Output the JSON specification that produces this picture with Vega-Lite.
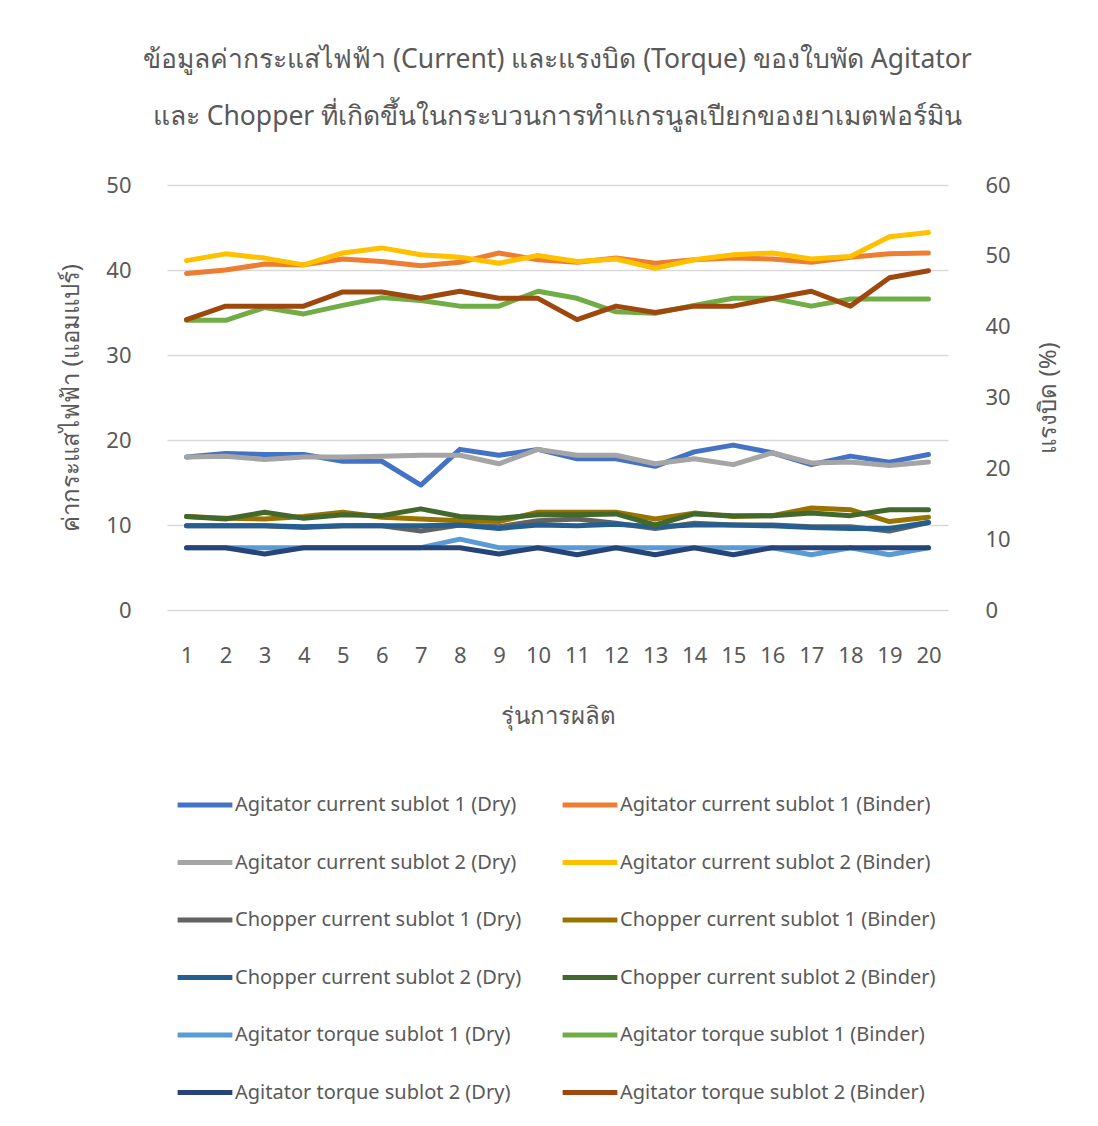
{
  "$schema": "https://vega.github.io/schema/vega-lite/v6.json",
  "width": 781,
  "height": 425,
  "autosize": {"type": "none"},
  "padding": {"left": 167, "top": 185, "right": 150, "bottom": 516},
  "background": "white",
  "config": {
    "view": {"stroke": null},
    "font": "Noto Sans",
    "axis": {"labelColor": "#595959", "titleColor": "#595959", "labelFont": "Noto Sans", "titleFont": "Noto Sans", "titleFontWeight": "normal"},
    "legend": {"labelFont": "Noto Sans"}
  },
  "title": {
    "text": ["ข้อมูลค่ากระแสไฟฟ้า (Current) และแรงบิด (Torque) ของใบพัด Agitator", "และ Chopper ที่เกิดขึ้นในกระบวนการทำแกรนูลเปียกของยาเมตฟอร์มิน"],
    "anchor": "middle",
    "frame": "group",
    "fontSize": 26.5,
    "lineHeight": 57,
    "fontWeight": "normal",
    "color": "#595959",
    "offset": 44
  },
  "datasets": {
    "current": [
      {"batch":1,"series":"Agitator current sublot 1 (Dry)","value":18.0},{"batch":2,"series":"Agitator current sublot 1 (Dry)","value":18.4},{"batch":3,"series":"Agitator current sublot 1 (Dry)","value":18.3},{"batch":4,"series":"Agitator current sublot 1 (Dry)","value":18.3},{"batch":5,"series":"Agitator current sublot 1 (Dry)","value":17.5},{"batch":6,"series":"Agitator current sublot 1 (Dry)","value":17.5},{"batch":7,"series":"Agitator current sublot 1 (Dry)","value":14.7},{"batch":8,"series":"Agitator current sublot 1 (Dry)","value":18.9},{"batch":9,"series":"Agitator current sublot 1 (Dry)","value":18.2},{"batch":10,"series":"Agitator current sublot 1 (Dry)","value":18.9},{"batch":11,"series":"Agitator current sublot 1 (Dry)","value":17.8},{"batch":12,"series":"Agitator current sublot 1 (Dry)","value":17.8},{"batch":13,"series":"Agitator current sublot 1 (Dry)","value":16.9},{"batch":14,"series":"Agitator current sublot 1 (Dry)","value":18.6},{"batch":15,"series":"Agitator current sublot 1 (Dry)","value":19.4},{"batch":16,"series":"Agitator current sublot 1 (Dry)","value":18.5},{"batch":17,"series":"Agitator current sublot 1 (Dry)","value":17.1},{"batch":18,"series":"Agitator current sublot 1 (Dry)","value":18.1},{"batch":19,"series":"Agitator current sublot 1 (Dry)","value":17.4},{"batch":20,"series":"Agitator current sublot 1 (Dry)","value":18.3},
      {"batch":1,"series":"Agitator current sublot 1 (Binder)","value":39.6},{"batch":2,"series":"Agitator current sublot 1 (Binder)","value":40.0},{"batch":3,"series":"Agitator current sublot 1 (Binder)","value":40.7},{"batch":4,"series":"Agitator current sublot 1 (Binder)","value":40.6},{"batch":5,"series":"Agitator current sublot 1 (Binder)","value":41.3},{"batch":6,"series":"Agitator current sublot 1 (Binder)","value":41.0},{"batch":7,"series":"Agitator current sublot 1 (Binder)","value":40.5},{"batch":8,"series":"Agitator current sublot 1 (Binder)","value":40.9},{"batch":9,"series":"Agitator current sublot 1 (Binder)","value":42.0},{"batch":10,"series":"Agitator current sublot 1 (Binder)","value":41.2},{"batch":11,"series":"Agitator current sublot 1 (Binder)","value":40.9},{"batch":12,"series":"Agitator current sublot 1 (Binder)","value":41.4},{"batch":13,"series":"Agitator current sublot 1 (Binder)","value":40.8},{"batch":14,"series":"Agitator current sublot 1 (Binder)","value":41.2},{"batch":15,"series":"Agitator current sublot 1 (Binder)","value":41.4},{"batch":16,"series":"Agitator current sublot 1 (Binder)","value":41.3},{"batch":17,"series":"Agitator current sublot 1 (Binder)","value":40.9},{"batch":18,"series":"Agitator current sublot 1 (Binder)","value":41.5},{"batch":19,"series":"Agitator current sublot 1 (Binder)","value":41.9},{"batch":20,"series":"Agitator current sublot 1 (Binder)","value":42.0},
      {"batch":1,"series":"Agitator current sublot 2 (Dry)","value":18.0},{"batch":2,"series":"Agitator current sublot 2 (Dry)","value":18.1},{"batch":3,"series":"Agitator current sublot 2 (Dry)","value":17.7},{"batch":4,"series":"Agitator current sublot 2 (Dry)","value":18.0},{"batch":5,"series":"Agitator current sublot 2 (Dry)","value":18.0},{"batch":6,"series":"Agitator current sublot 2 (Dry)","value":18.1},{"batch":7,"series":"Agitator current sublot 2 (Dry)","value":18.2},{"batch":8,"series":"Agitator current sublot 2 (Dry)","value":18.2},{"batch":9,"series":"Agitator current sublot 2 (Dry)","value":17.2},{"batch":10,"series":"Agitator current sublot 2 (Dry)","value":18.9},{"batch":11,"series":"Agitator current sublot 2 (Dry)","value":18.2},{"batch":12,"series":"Agitator current sublot 2 (Dry)","value":18.2},{"batch":13,"series":"Agitator current sublot 2 (Dry)","value":17.2},{"batch":14,"series":"Agitator current sublot 2 (Dry)","value":17.8},{"batch":15,"series":"Agitator current sublot 2 (Dry)","value":17.1},{"batch":16,"series":"Agitator current sublot 2 (Dry)","value":18.5},{"batch":17,"series":"Agitator current sublot 2 (Dry)","value":17.3},{"batch":18,"series":"Agitator current sublot 2 (Dry)","value":17.4},{"batch":19,"series":"Agitator current sublot 2 (Dry)","value":17.0},{"batch":20,"series":"Agitator current sublot 2 (Dry)","value":17.4},
      {"batch":1,"series":"Agitator current sublot 2 (Binder)","value":41.1},{"batch":2,"series":"Agitator current sublot 2 (Binder)","value":41.9},{"batch":3,"series":"Agitator current sublot 2 (Binder)","value":41.4},{"batch":4,"series":"Agitator current sublot 2 (Binder)","value":40.6},{"batch":5,"series":"Agitator current sublot 2 (Binder)","value":42.0},{"batch":6,"series":"Agitator current sublot 2 (Binder)","value":42.6},{"batch":7,"series":"Agitator current sublot 2 (Binder)","value":41.8},{"batch":8,"series":"Agitator current sublot 2 (Binder)","value":41.5},{"batch":9,"series":"Agitator current sublot 2 (Binder)","value":40.8},{"batch":10,"series":"Agitator current sublot 2 (Binder)","value":41.7},{"batch":11,"series":"Agitator current sublot 2 (Binder)","value":41.0},{"batch":12,"series":"Agitator current sublot 2 (Binder)","value":41.3},{"batch":13,"series":"Agitator current sublot 2 (Binder)","value":40.2},{"batch":14,"series":"Agitator current sublot 2 (Binder)","value":41.2},{"batch":15,"series":"Agitator current sublot 2 (Binder)","value":41.8},{"batch":16,"series":"Agitator current sublot 2 (Binder)","value":42.0},{"batch":17,"series":"Agitator current sublot 2 (Binder)","value":41.3},{"batch":18,"series":"Agitator current sublot 2 (Binder)","value":41.6},{"batch":19,"series":"Agitator current sublot 2 (Binder)","value":43.9},{"batch":20,"series":"Agitator current sublot 2 (Binder)","value":44.4},
      {"batch":1,"series":"Chopper current sublot 1 (Dry)","value":9.9},{"batch":2,"series":"Chopper current sublot 1 (Dry)","value":9.9},{"batch":3,"series":"Chopper current sublot 1 (Dry)","value":9.9},{"batch":4,"series":"Chopper current sublot 1 (Dry)","value":9.7},{"batch":5,"series":"Chopper current sublot 1 (Dry)","value":9.9},{"batch":6,"series":"Chopper current sublot 1 (Dry)","value":9.9},{"batch":7,"series":"Chopper current sublot 1 (Dry)","value":9.3},{"batch":8,"series":"Chopper current sublot 1 (Dry)","value":10.0},{"batch":9,"series":"Chopper current sublot 1 (Dry)","value":9.8},{"batch":10,"series":"Chopper current sublot 1 (Dry)","value":10.5},{"batch":11,"series":"Chopper current sublot 1 (Dry)","value":10.7},{"batch":12,"series":"Chopper current sublot 1 (Dry)","value":10.2},{"batch":13,"series":"Chopper current sublot 1 (Dry)","value":9.6},{"batch":14,"series":"Chopper current sublot 1 (Dry)","value":10.2},{"batch":15,"series":"Chopper current sublot 1 (Dry)","value":10.0},{"batch":16,"series":"Chopper current sublot 1 (Dry)","value":10.0},{"batch":17,"series":"Chopper current sublot 1 (Dry)","value":9.8},{"batch":18,"series":"Chopper current sublot 1 (Dry)","value":9.8},{"batch":19,"series":"Chopper current sublot 1 (Dry)","value":9.3},{"batch":20,"series":"Chopper current sublot 1 (Dry)","value":10.3},
      {"batch":1,"series":"Chopper current sublot 1 (Binder)","value":11.0},{"batch":2,"series":"Chopper current sublot 1 (Binder)","value":10.8},{"batch":3,"series":"Chopper current sublot 1 (Binder)","value":10.7},{"batch":4,"series":"Chopper current sublot 1 (Binder)","value":11.0},{"batch":5,"series":"Chopper current sublot 1 (Binder)","value":11.5},{"batch":6,"series":"Chopper current sublot 1 (Binder)","value":10.9},{"batch":7,"series":"Chopper current sublot 1 (Binder)","value":10.7},{"batch":8,"series":"Chopper current sublot 1 (Binder)","value":10.5},{"batch":9,"series":"Chopper current sublot 1 (Binder)","value":10.4},{"batch":10,"series":"Chopper current sublot 1 (Binder)","value":11.5},{"batch":11,"series":"Chopper current sublot 1 (Binder)","value":11.5},{"batch":12,"series":"Chopper current sublot 1 (Binder)","value":11.5},{"batch":13,"series":"Chopper current sublot 1 (Binder)","value":10.7},{"batch":14,"series":"Chopper current sublot 1 (Binder)","value":11.4},{"batch":15,"series":"Chopper current sublot 1 (Binder)","value":11.0},{"batch":16,"series":"Chopper current sublot 1 (Binder)","value":11.1},{"batch":17,"series":"Chopper current sublot 1 (Binder)","value":12.0},{"batch":18,"series":"Chopper current sublot 1 (Binder)","value":11.8},{"batch":19,"series":"Chopper current sublot 1 (Binder)","value":10.4},{"batch":20,"series":"Chopper current sublot 1 (Binder)","value":10.9},
      {"batch":1,"series":"Chopper current sublot 2 (Dry)","value":9.9},{"batch":2,"series":"Chopper current sublot 2 (Dry)","value":9.9},{"batch":3,"series":"Chopper current sublot 2 (Dry)","value":9.9},{"batch":4,"series":"Chopper current sublot 2 (Dry)","value":9.8},{"batch":5,"series":"Chopper current sublot 2 (Dry)","value":9.9},{"batch":6,"series":"Chopper current sublot 2 (Dry)","value":9.9},{"batch":7,"series":"Chopper current sublot 2 (Dry)","value":9.9},{"batch":8,"series":"Chopper current sublot 2 (Dry)","value":10.0},{"batch":9,"series":"Chopper current sublot 2 (Dry)","value":9.6},{"batch":10,"series":"Chopper current sublot 2 (Dry)","value":10.0},{"batch":11,"series":"Chopper current sublot 2 (Dry)","value":9.9},{"batch":12,"series":"Chopper current sublot 2 (Dry)","value":10.1},{"batch":13,"series":"Chopper current sublot 2 (Dry)","value":9.8},{"batch":14,"series":"Chopper current sublot 2 (Dry)","value":10.0},{"batch":15,"series":"Chopper current sublot 2 (Dry)","value":10.0},{"batch":16,"series":"Chopper current sublot 2 (Dry)","value":9.9},{"batch":17,"series":"Chopper current sublot 2 (Dry)","value":9.7},{"batch":18,"series":"Chopper current sublot 2 (Dry)","value":9.6},{"batch":19,"series":"Chopper current sublot 2 (Dry)","value":9.6},{"batch":20,"series":"Chopper current sublot 2 (Dry)","value":10.3},
      {"batch":1,"series":"Chopper current sublot 2 (Binder)","value":11.0},{"batch":2,"series":"Chopper current sublot 2 (Binder)","value":10.7},{"batch":3,"series":"Chopper current sublot 2 (Binder)","value":11.5},{"batch":4,"series":"Chopper current sublot 2 (Binder)","value":10.8},{"batch":5,"series":"Chopper current sublot 2 (Binder)","value":11.2},{"batch":6,"series":"Chopper current sublot 2 (Binder)","value":11.1},{"batch":7,"series":"Chopper current sublot 2 (Binder)","value":11.9},{"batch":8,"series":"Chopper current sublot 2 (Binder)","value":11.0},{"batch":9,"series":"Chopper current sublot 2 (Binder)","value":10.8},{"batch":10,"series":"Chopper current sublot 2 (Binder)","value":11.2},{"batch":11,"series":"Chopper current sublot 2 (Binder)","value":11.2},{"batch":12,"series":"Chopper current sublot 2 (Binder)","value":11.3},{"batch":13,"series":"Chopper current sublot 2 (Binder)","value":10.0},{"batch":14,"series":"Chopper current sublot 2 (Binder)","value":11.3},{"batch":15,"series":"Chopper current sublot 2 (Binder)","value":11.1},{"batch":16,"series":"Chopper current sublot 2 (Binder)","value":11.1},{"batch":17,"series":"Chopper current sublot 2 (Binder)","value":11.4},{"batch":18,"series":"Chopper current sublot 2 (Binder)","value":11.1},{"batch":19,"series":"Chopper current sublot 2 (Binder)","value":11.8},{"batch":20,"series":"Chopper current sublot 2 (Binder)","value":11.8}
    ],
    "torque": [
      {"batch":1,"series":"Agitator torque sublot 1 (Dry)","value":8.8},{"batch":2,"series":"Agitator torque sublot 1 (Dry)","value":8.8},{"batch":3,"series":"Agitator torque sublot 1 (Dry)","value":8.8},{"batch":4,"series":"Agitator torque sublot 1 (Dry)","value":8.8},{"batch":5,"series":"Agitator torque sublot 1 (Dry)","value":8.8},{"batch":6,"series":"Agitator torque sublot 1 (Dry)","value":8.8},{"batch":7,"series":"Agitator torque sublot 1 (Dry)","value":8.8},{"batch":8,"series":"Agitator torque sublot 1 (Dry)","value":10.0},{"batch":9,"series":"Agitator torque sublot 1 (Dry)","value":8.8},{"batch":10,"series":"Agitator torque sublot 1 (Dry)","value":8.8},{"batch":11,"series":"Agitator torque sublot 1 (Dry)","value":8.8},{"batch":12,"series":"Agitator torque sublot 1 (Dry)","value":8.8},{"batch":13,"series":"Agitator torque sublot 1 (Dry)","value":8.8},{"batch":14,"series":"Agitator torque sublot 1 (Dry)","value":8.8},{"batch":15,"series":"Agitator torque sublot 1 (Dry)","value":8.8},{"batch":16,"series":"Agitator torque sublot 1 (Dry)","value":8.8},{"batch":17,"series":"Agitator torque sublot 1 (Dry)","value":7.8},{"batch":18,"series":"Agitator torque sublot 1 (Dry)","value":8.8},{"batch":19,"series":"Agitator torque sublot 1 (Dry)","value":7.8},{"batch":20,"series":"Agitator torque sublot 1 (Dry)","value":8.8},
      {"batch":1,"series":"Agitator torque sublot 1 (Binder)","value":40.9},{"batch":2,"series":"Agitator torque sublot 1 (Binder)","value":40.9},{"batch":3,"series":"Agitator torque sublot 1 (Binder)","value":42.7},{"batch":4,"series":"Agitator torque sublot 1 (Binder)","value":41.8},{"batch":5,"series":"Agitator torque sublot 1 (Binder)","value":43.0},{"batch":6,"series":"Agitator torque sublot 1 (Binder)","value":44.1},{"batch":7,"series":"Agitator torque sublot 1 (Binder)","value":43.7},{"batch":8,"series":"Agitator torque sublot 1 (Binder)","value":42.9},{"batch":9,"series":"Agitator torque sublot 1 (Binder)","value":42.9},{"batch":10,"series":"Agitator torque sublot 1 (Binder)","value":45.0},{"batch":11,"series":"Agitator torque sublot 1 (Binder)","value":44.0},{"batch":12,"series":"Agitator torque sublot 1 (Binder)","value":42.1},{"batch":13,"series":"Agitator torque sublot 1 (Binder)","value":41.9},{"batch":14,"series":"Agitator torque sublot 1 (Binder)","value":43.0},{"batch":15,"series":"Agitator torque sublot 1 (Binder)","value":44.0},{"batch":16,"series":"Agitator torque sublot 1 (Binder)","value":44.0},{"batch":17,"series":"Agitator torque sublot 1 (Binder)","value":42.9},{"batch":18,"series":"Agitator torque sublot 1 (Binder)","value":43.9},{"batch":19,"series":"Agitator torque sublot 1 (Binder)","value":43.9},{"batch":20,"series":"Agitator torque sublot 1 (Binder)","value":43.9},
      {"batch":1,"series":"Agitator torque sublot 2 (Dry)","value":8.8},{"batch":2,"series":"Agitator torque sublot 2 (Dry)","value":8.8},{"batch":3,"series":"Agitator torque sublot 2 (Dry)","value":7.9},{"batch":4,"series":"Agitator torque sublot 2 (Dry)","value":8.8},{"batch":5,"series":"Agitator torque sublot 2 (Dry)","value":8.8},{"batch":6,"series":"Agitator torque sublot 2 (Dry)","value":8.8},{"batch":7,"series":"Agitator torque sublot 2 (Dry)","value":8.8},{"batch":8,"series":"Agitator torque sublot 2 (Dry)","value":8.8},{"batch":9,"series":"Agitator torque sublot 2 (Dry)","value":7.9},{"batch":10,"series":"Agitator torque sublot 2 (Dry)","value":8.8},{"batch":11,"series":"Agitator torque sublot 2 (Dry)","value":7.8},{"batch":12,"series":"Agitator torque sublot 2 (Dry)","value":8.8},{"batch":13,"series":"Agitator torque sublot 2 (Dry)","value":7.8},{"batch":14,"series":"Agitator torque sublot 2 (Dry)","value":8.8},{"batch":15,"series":"Agitator torque sublot 2 (Dry)","value":7.8},{"batch":16,"series":"Agitator torque sublot 2 (Dry)","value":8.8},{"batch":17,"series":"Agitator torque sublot 2 (Dry)","value":8.8},{"batch":18,"series":"Agitator torque sublot 2 (Dry)","value":8.8},{"batch":19,"series":"Agitator torque sublot 2 (Dry)","value":8.8},{"batch":20,"series":"Agitator torque sublot 2 (Dry)","value":8.8},
      {"batch":1,"series":"Agitator torque sublot 2 (Binder)","value":41.0},{"batch":2,"series":"Agitator torque sublot 2 (Binder)","value":42.9},{"batch":3,"series":"Agitator torque sublot 2 (Binder)","value":42.9},{"batch":4,"series":"Agitator torque sublot 2 (Binder)","value":42.9},{"batch":5,"series":"Agitator torque sublot 2 (Binder)","value":44.9},{"batch":6,"series":"Agitator torque sublot 2 (Binder)","value":44.9},{"batch":7,"series":"Agitator torque sublot 2 (Binder)","value":44.0},{"batch":8,"series":"Agitator torque sublot 2 (Binder)","value":45.0},{"batch":9,"series":"Agitator torque sublot 2 (Binder)","value":44.0},{"batch":10,"series":"Agitator torque sublot 2 (Binder)","value":44.0},{"batch":11,"series":"Agitator torque sublot 2 (Binder)","value":41.0},{"batch":12,"series":"Agitator torque sublot 2 (Binder)","value":42.9},{"batch":13,"series":"Agitator torque sublot 2 (Binder)","value":42.0},{"batch":14,"series":"Agitator torque sublot 2 (Binder)","value":42.9},{"batch":15,"series":"Agitator torque sublot 2 (Binder)","value":42.9},{"batch":16,"series":"Agitator torque sublot 2 (Binder)","value":44.0},{"batch":17,"series":"Agitator torque sublot 2 (Binder)","value":45.0},{"batch":18,"series":"Agitator torque sublot 2 (Binder)","value":42.9},{"batch":19,"series":"Agitator torque sublot 2 (Binder)","value":46.9},{"batch":20,"series":"Agitator torque sublot 2 (Binder)","value":47.9}
    ]
  },
  "encoding": {
    "x": {
      "field": "batch",
      "type": "ordinal",
      "scale": {"type": "point", "padding": 0.5},
      "axis": {"title": "รุ่นการผลิต", "labelAngle": 0, "domain": false, "ticks": false, "labelFontSize": 22, "labelPadding": 35, "titleFontSize": 24, "titlePadding": 38}
    },
    "color": {
      "field": "series",
      "type": "nominal",
      "scale": {
        "domain": ["Agitator current sublot 1 (Dry)", "Agitator current sublot 2 (Dry)", "Chopper current sublot 1 (Dry)", "Chopper current sublot 2 (Dry)", "Agitator torque sublot 1 (Dry)", "Agitator torque sublot 2 (Dry)", "Agitator current sublot 1 (Binder)", "Agitator current sublot 2 (Binder)", "Chopper current sublot 1 (Binder)", "Chopper current sublot 2 (Binder)", "Agitator torque sublot 1 (Binder)", "Agitator torque sublot 2 (Binder)"],
        "range": ["#4472C4", "#A5A5A5", "#636363", "#255E91", "#5B9BD5", "#264478", "#ED7D31", "#FFC000", "#997300", "#43682B", "#70AD47", "#9E480E"]
      },
      "legend": {
        "title": null,
        "orient": "none",
        "legendX": 8,
        "legendY": 590,
        "columns": 2,
        "symbolType": "stroke",
        "symbolSize": 3000,
        "symbolStrokeWidth": 5,
        "labelFontSize": 20,
        "labelColor": "#595959",
        "labelOffset": 0,
        "labelLimit": 500,
        "rowPadding": 17.5,
        "columnPadding": 30,
        "padding": 0
      }
    }
  },
  "layer": [
    {
      "data": {"name": "current"},
      "mark": {"type": "line", "strokeWidth": 5, "strokeCap": "round", "strokeJoin": "round"},
      "encoding": {
        "y": {
          "field": "value",
          "type": "quantitative",
          "scale": {"domain": [0, 50]},
          "axis": {"title": "ค่ากระแสไฟฟ้า (แอมแปร์)", "values": [0, 10, 20, 30, 40, 50], "grid": true, "gridColor": "#D9D9D9", "gridWidth": 1.3, "domain": false, "ticks": false, "labelFontSize": 22, "labelPadding": 36, "titleFontSize": 24, "titlePadding": 22}
        }
      }
    },
    {
      "data": {"name": "torque"},
      "mark": {"type": "line", "strokeWidth": 5, "strokeCap": "round", "strokeJoin": "round"},
      "encoding": {
        "y": {
          "field": "value",
          "type": "quantitative",
          "scale": {"domain": [0, 60]},
          "axis": {"orient": "right", "title": "แรงบิด (%)", "titleAngle": 270, "values": [0, 10, 20, 30, 40, 50, 60], "grid": false, "domain": false, "ticks": false, "labelFontSize": 22, "labelPadding": 37, "titleFontSize": 24, "titlePadding": 50}
        }
      }
    }
  ],
  "resolve": {"scale": {"y": "independent"}, "axis": {"y": "independent"}}
}
